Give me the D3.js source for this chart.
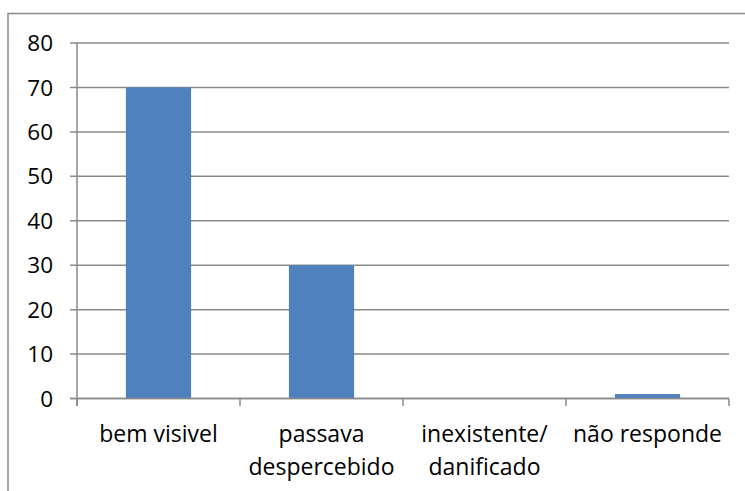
<!DOCTYPE html>
<html>
<head>
<meta charset="utf-8">
<script src="https://cdn.jsdelivr.net/npm/d3@7"></script>
<style>
  html, body { margin: 0; padding: 0; background: #fff; }
  svg { display: block; }
  text { font-family: "Open Sans", "Noto Sans", sans-serif; fill: #000; }
</style>
</head>
<body>
<svg id="chart" width="745" height="491"></svg>
<script>
const categories = ["bem visivel", "passava despercebido", "inexistente/ danificado", "não responde"];
const categoryLines = [["bem visivel"], ["passava", "despercebido"], ["inexistente/", "danificado"], ["não responde"]];
const values = [70, 30, 0, 1];
const yTicks = [0, 10, 20, 30, 40, 50, 60, 70, 80];

const svg = d3.select("#chart");
const plot = { left: 77, right: 729, top: 43, bottom: 398.5 };
const gray = "#8a8a8a";

// outer chart border (extends beyond the visible frame on right/bottom)
svg.append("rect")
  .attr("x", 8).attr("y", 13.5)
  .attr("width", 760).attr("height", 520)
  .attr("fill", "#fff")
  .attr("stroke", gray).attr("stroke-width", 1.5);

const y = d3.scaleLinear().domain([0, 80]).range([plot.bottom, plot.top]);
const x = d3.scaleBand().domain(categories)
  .range([plot.left, plot.right]).paddingInner(0.6).paddingOuter(0.3);
const xCat = d3.scaleBand().domain(categories).range([plot.left, plot.right]);

// gridlines with tick marks
svg.append("g").selectAll("line").data(yTicks).join("line")
  .attr("x1", plot.left - 7).attr("x2", plot.right)
  .attr("y1", d => y(d)).attr("y2", d => y(d))
  .attr("stroke", gray).attr("stroke-width", 1.5);

// y axis line
svg.append("line")
  .attr("x1", plot.left).attr("x2", plot.left)
  .attr("y1", plot.top).attr("y2", plot.bottom + 7.5)
  .attr("stroke", gray).attr("stroke-width", 1.5);

// x tick marks at category boundaries
const bounds = categories.map(c => xCat(c)).concat([plot.right]);
svg.append("g").selectAll("line").data(bounds).join("line")
  .attr("x1", d => d).attr("x2", d => d)
  .attr("y1", plot.bottom).attr("y2", plot.bottom + 7.5)
  .attr("stroke", gray).attr("stroke-width", 1.5);

// bars
svg.append("g").selectAll("rect").data(values).join("rect")
  .attr("x", (d, i) => x(categories[i]))
  .attr("width", x.bandwidth())
  .attr("y", d => y(d))
  .attr("height", d => y(0) - y(d))
  .attr("fill", "#4F81BD");

// redraw baseline over bars
svg.append("line")
  .attr("x1", plot.left - 7).attr("x2", plot.right)
  .attr("y1", y(0)).attr("y2", y(0))
  .attr("stroke", gray).attr("stroke-width", 1.5);

// y labels
svg.append("g").selectAll("text").data(yTicks).join("text")
  .attr("x", 53).attr("y", d => y(d))
  .attr("dy", "0.36em")
  .attr("text-anchor", "end")
  .style("font-size", "22.5px")
  .text(d => d);

// x labels
const xl = svg.append("g").selectAll("text").data(categories).join("text")
  .attr("text-anchor", "middle")
  .style("font-size", "23px")
  .attr("transform", c => `translate(${xCat(c) + xCat.bandwidth() / 2},0)`);
xl.selectAll("tspan").data((c, i) => categoryLines[i]).join("tspan")
  .attr("x", 0)
  .attr("y", (d, j) => 442 + j * 32.5)
  .text(d => d);
</script>
</body>
</html>
